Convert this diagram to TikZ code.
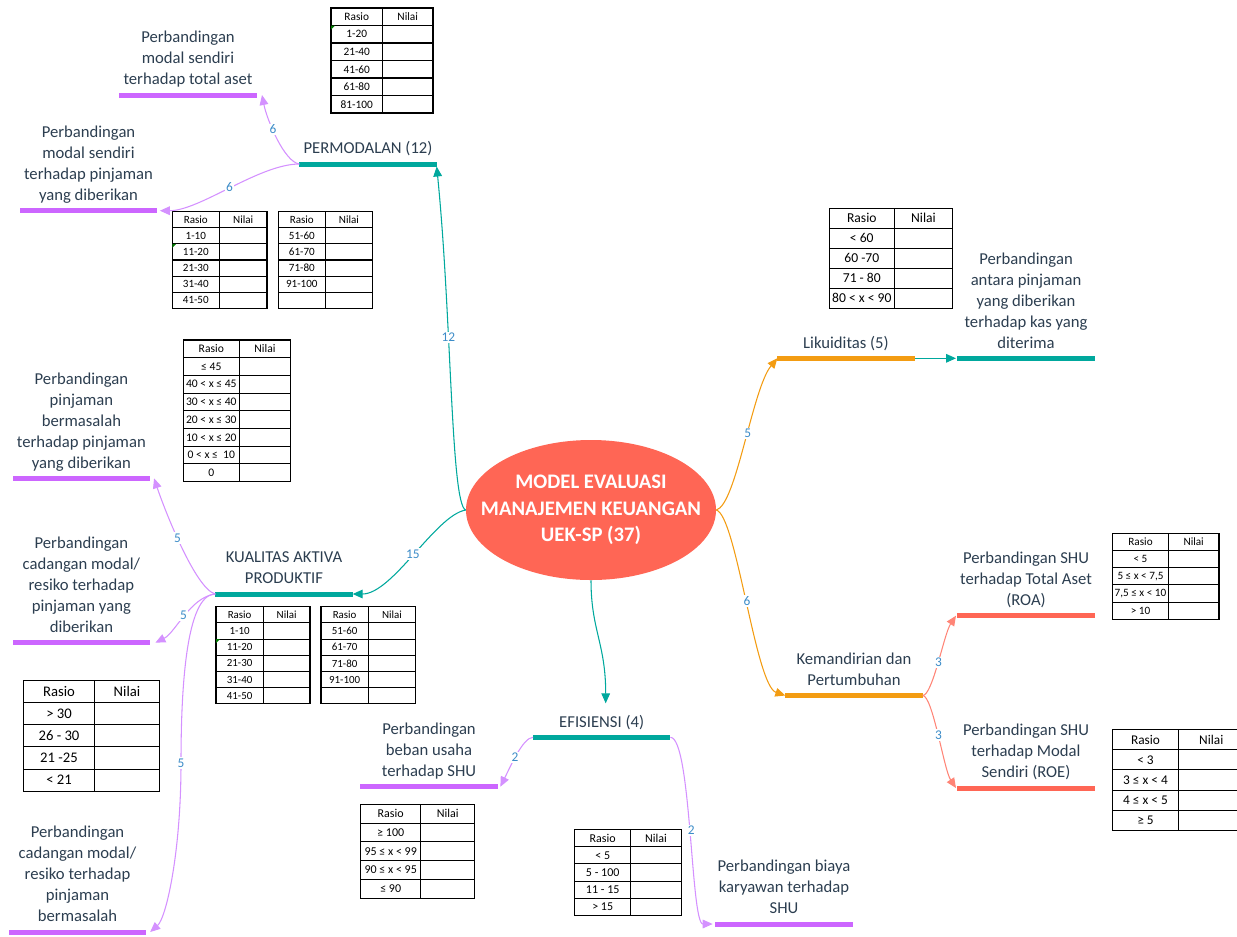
\documentclass[tikz,border=0pt]{standalone}
\usepackage{fontspec}
\setmainfont{Carlito}
\usetikzlibrary{arrows.meta, shapes.geometric, calc}

\definecolor{tealc}{RGB}{0,168,157}
\definecolor{purpc}{RGB}{204,102,255}
\definecolor{purpl}{RGB}{212,145,255}
\definecolor{orgc}{RGB}{243,156,18}
\definecolor{redc}{RGB}{255,102,85}
\definecolor{numc}{RGB}{60,140,200}
\definecolor{txtc}{RGB}{44,62,80}
\definecolor{xlgreen}{RGB}{0,120,0}

% table Rasio / Nilai: name, top left, width rasio, width nilai, row height, font size, rows
\newcommand{\rasiotab}[7]{%
  \begin{scope}[shift={#2}, every node/.append style={font=\fontsize{#6}{#6}\selectfont}]
    \node[cell, minimum width={#3*0.75pt}, minimum height={#5*0.75pt}] (#1-0-1) at (0,0) {Rasio};
    \node[cell, minimum width={#4*0.75pt}, minimum height={#5*0.75pt}] (#1-0-2) at (#3,0) {Nilai};
    \foreach \v [count=\r] in {#7}{
      \node[cell, minimum width={#3*0.75pt}, minimum height={#5*0.75pt}] (#1-\r-1) at (0,{\r*#5}) {\v};
      \node[cell, minimum width={#4*0.75pt}, minimum height={#5*0.75pt}] (#1-\r-2) at (#3,{\r*#5}) {};
    }
  \end{scope}}

\begin{document}
\begin{tikzpicture}[x=0.75pt, y=-0.75pt,
  root/.style={ellipse, fill=redc, text=white, font=\bfseries\fontsize{15.5}{20}\selectfont, align=center, minimum width=187.5pt, minimum height=105pt, inner xsep=-18pt, inner ysep=0pt},
  bar/.style={rectangle, inner sep=0pt, outer sep=0pt, minimum width=103pt, minimum height=3.75pt},
  lbl/.style={text=txtc, font=\fontsize{12.5}{15.75}\selectfont, align=center, anchor=south, inner sep=2.5pt, text depth=3pt},
  link/.style={line width=0.8pt, -{Triangle[length=7.5pt, width=6.5pt]}},
  num/.style={text=numc, font=\fontsize{10}{10}\selectfont, fill=white, inner sep=1pt},
  cell/.style={draw, line width=0.8pt, inner sep=0pt, outer sep=0pt, anchor=north west, text=black}]
\useasboundingbox (0,0) rectangle (1237,936);

% CENTER
\node[root] (root) at (591,510) {MODEL EVALUASI\\MANAJEMEN KEUANGAN\\UEK-SP (37)};

% TOP LEFT: PERMODALAN
\node[bar, fill=tealc] (bPerm) at (368,164) {};
\node[lbl] (tPerm) at (bPerm.north) {PERMODALAN (12)};
\node[bar, fill=purpc] (bP1) at (188,95) {};
\node[lbl] (tP1) at (bP1.north) {Perbandingan\\modal sendiri\\terhadap total aset};
\node[bar, fill=purpc] (bP2) at (88.5,210.7) {};
\node[lbl] (tP2) at (bP2.north) {Perbandingan\\modal sendiri\\terhadap pinjaman\\yang diberikan};
\rasiotab{tabP1}{(331,8)}{51.5}{50.5}{17.5}{8.5}{1-20,21-40,41-60,61-80,81-100}
\rasiotab{tabP2a}{(172.3,211.7)}{47}{47.7}{16.1}{8.3}{1-10,11-20,21-30,31-40,41-50}
\rasiotab{tabP2b}{(278.3,211.7)}{47}{47.4}{16.1}{8.3}{51-60,61-70,71-80,91-100,~}
\fill[xlgreen] (tabP1-1-1.north west) -- +(4,0) -- +(0,4) -- cycle;
\fill[xlgreen] (tabP2a-2-1.north west) -- +(4,0) -- +(0,4) -- cycle;

\draw[link, tealc] (root.west) .. controls +(-15,-5) and +(15,150) .. (bPerm.south east) node[num, pos=0.63] (n12) {12};
\draw[link, purpl] (bPerm.west) .. controls +(-15,-2) and +(5,25) .. ([xshift=4pt]bP1.east) node[num, pos=0.6] (n6a) {6};
\draw[link, purpl] (bPerm.west) .. controls +(-40,0) and +(40,0) .. ([xshift=2pt]bP2.east) node[num, pos=0.5] (n6b) {6};

% LEFT: KUALITAS AKTIVA PRODUKTIF
\node[bar, fill=tealc] (bKual) at (284,594) {};
\node[lbl] (tKual) at (bKual.north) {KUALITAS AKTIVA\\PRODUKTIF};
\node[bar, fill=purpc] (bKb) at (81.4,478.3) {};
\node[lbl] (tKb) at (bKb.north) {Perbandingan\\pinjaman\\bermasalah\\terhadap pinjaman\\yang diberikan};
\node[bar, fill=purpc] (bKd) at (81.4,642.7) {};
\node[lbl] (tKd) at (bKd.north) {Perbandingan\\cadangan modal/\\resiko terhadap\\pinjaman yang\\diberikan};
\node[bar, fill=purpc] (bKm) at (77.5,932) {};
\node[lbl] (tKm) at (bKm.north) {Perbandingan\\cadangan modal/\\resiko terhadap\\pinjaman\\bermasalah};
\rasiotab{tabKb}{(183.3,340)}{56}{51.4}{17.7}{8.7}{≤ 45,40 < x ≤ 45,30 < x ≤ 40,20 < x ≤ 30,10 < x ≤ 20,0 < x ≤~ 10,0}
\rasiotab{tabKa}{(216,606.7)}{47.3}{46.7}{16.2}{8.2}{1-10,11-20,21-30,31-40,41-50}
\rasiotab{tabKc}{(321,606.7)}{47.3}{47.4}{16.2}{8.2}{51-60,61-70,71-80,91-100,~}
\rasiotab{tabKd}{(23.3,680.3)}{71.4}{64.6}{22.2}{11}{> 30,26 - 30,21 -25,< 21}
\fill[xlgreen] (tabKa-2-1.north west) -- +(4,0) -- +(0,4) -- cycle;

\draw[link, tealc] (root.west) .. controls +(-30,5) and +(40,0) .. (bKual.east) node[num, pos=0.5] (n15) {15};
\draw[link, purpl] (bKual.west) .. controls +(-20,-5) and +(10,30) .. ([xshift=3pt]bKb.east) node[num, pos=0.55] (n5a) {5};
\draw[link, purpl] (bKual.west) .. controls +(-25,3) and +(20,-10) .. ([xshift=4pt]bKd.east) node[num, pos=0.5] (n5b) {5};
\coordinate (kmMid) at (181,763);
\draw[link, purpl] (bKual.west) .. controls +(-30,0) and +(0,-70) .. (kmMid) .. controls +(0,90) and +(16,-14) .. ([xshift=3pt]bKm.east);
\node[num] (n5c) at (kmMid) {5};

% BOTTOM: EFISIENSI
\node[bar, fill=tealc] (bEfis) at (601.7,737.3) {};
\node[lbl] (tEfis) at (bEfis.north) {EFISIENSI (4)};
\node[bar, fill=purpc] (bBeban) at (429,786.7) {};
\node[lbl] (tBeban) at (bBeban.north) {Perbandingan\\beban usaha\\terhadap SHU};
\node[bar, fill=purpc] (bBiaya) at (784,924) {};
\node[lbl] (tBiaya) at (bBiaya.north) {Perbandingan biaya\\karyawan terhadap\\SHU};
\rasiotab{tabBeban}{(360.7,804.3)}{60}{54}{18.8}{9}{≥ 100,95 ≤ x < 99,90 ≤ x < 95,≤ 90}
\rasiotab{tabBiaya}{(574.7,829.3)}{56}{50.6}{17.3}{9}{< 5,5 - 100,11 - 15,> 15}

\coordinate (efisIn) at ($(bEfis)+(4,-34)$);
\draw[link, tealc] (root.south) .. controls +(0,50) and +(0,-60) .. (efisIn);
\draw[link, purpl] (bEfis.west) .. controls +(-10,0) and +(10,-20) .. ([xshift=2pt]bBeban.east) node[num, pos=0.55] (n2a) {2};
\draw[link, purpl] (bEfis.east) .. controls +(21,0) and +(-22,0) .. ([xshift=-2pt]bBiaya.west) node[num, pos=0.5] (n2b) {2};

% RIGHT: LIKUIDITAS
\node[bar, fill=orgc] (bLik) at (846,358.3) {};
\node[lbl] (tLik) at (bLik.north) {Likuiditas (5)};
\node[bar, fill=tealc] (bAnt) at (1026,358.3) {};
\node[lbl] (tAnt) at (bAnt.north) {Perbandingan\\antara pinjaman\\yang diberikan\\terhadap kas yang\\diterima};
\rasiotab{tabAnt}{(829.3,208.3)}{65}{58.4}{20}{10.2}{< 60,60 -70,71 - 80,80 < x < 90}

\draw[link, orgc] (root.east) .. controls +(20,-5) and +(-25,30) .. (bLik.west) node[num, pos=0.55] (n5d) {5};
\draw[link, tealc] (bLik.east) -- ([xshift=-1pt]bAnt.west);

% RIGHT: KEMANDIRIAN DAN PERTUMBUHAN
\node[bar, fill=orgc] (bKem) at (854,695.5) {};
\node[lbl] (tKem) at (bKem.north) {Kemandirian dan\\Pertumbuhan};
\node[bar, fill=redc] (bRoa) at (1026,615.7) {};
\node[lbl] (tRoa) at (bRoa.north) {Perbandingan SHU\\terhadap Total Aset\\(ROA)};
\node[bar, fill=redc] (bRoe) at (1026,788) {};
\node[lbl] (tRoe) at (bRoe.north) {Perbandingan SHU\\terhadap Modal\\Sendiri (ROE)};
\rasiotab{tabRoa}{(1112.7,533.3)}{55.6}{50.7}{17.2}{8.4}{< 5,{5 ≤ x < 7,5},{7,5 ≤ x < 10},> 10}
\rasiotab{tabRoe}{(1112.7,729.3)}{65.6}{66}{20.3}{10}{< 3,3 ≤ x < 4,4 ≤ x < 5,≥ 5}

\draw[link, orgc] (root.east) .. controls +(20,5) and +(-30,-10) .. (bKem.west) node[num, pos=0.5] (n6c) {6};
\draw[link, redc!80] (bKem.east) .. controls +(10,0) and +(-12,18) .. ([xshift=-1pt]bRoa.west) node[num, pos=0.5] (n3a) {3};
\draw[link, redc!80] (bKem.east) .. controls +(10,0) and +(-12,-18) .. ([xshift=-1pt]bRoe.west) node[num, pos=0.5] (n3b) {3};
\end{tikzpicture}
\end{document}
